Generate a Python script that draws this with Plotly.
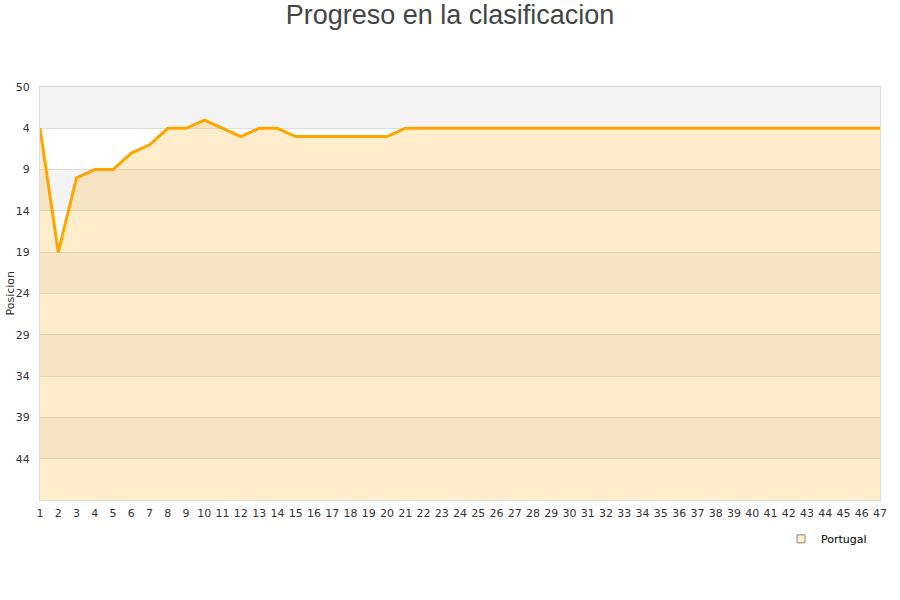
import plotly.graph_objects as go

jornadas = list(range(1, 48))
posicion = [4, 19, 10, 9, 9, 7, 6, 4, 4, 3, 4, 5, 4, 4, 5, 5, 5, 5, 5, 5] + [4] * 27
ytick_vals = [-1, 4, 9, 14, 19, 24, 29, 34, 39, 44]
ytick_text = ["50", "4", "9", "14", "19", "24", "29", "34", "39", "44"]
y_min, y_max = -1, 49

fig = go.Figure()

# baseline for area fill
fig.add_trace(go.Scatter(x=jornadas, y=[y_max] * len(jornadas), mode="lines",
                         line=dict(width=0, color="rgba(0,0,0,0)"),
                         showlegend=False, hoverinfo="skip"))
fig.add_trace(go.Scatter(x=jornadas, y=posicion, mode="lines", fill="tonexty",
                         fillcolor="rgba(255,165,0,0.2)",
                         line=dict(color="#FFA500", width=3),
                         showlegend=False, name="Portugal"))
# legend entry
fig.add_trace(go.Scatter(x=[None], y=[None], mode="markers", name="Portugal",
                         marker=dict(symbol="square", size=8, color="#FFEDCC",
                                     line=dict(color="#888888", width=1))))

# alternating bands
bounds = ytick_vals + [y_max]
shapes = []
for i in range(len(bounds) - 1):
    color = "#F4F4F4" if i % 2 == 0 else "#FFFFFF"
    shapes.append(dict(type="rect", xref="paper", yref="y", x0=0, x1=1,
                       y0=bounds[i], y1=bounds[i + 1], fillcolor=color,
                       line=dict(width=0), layer="below"))

fig.update_layout(
    width=900, height=600,
    paper_bgcolor="white", plot_bgcolor="white",
    margin=dict(l=40, r=20, t=87, b=100, autoexpand=False),
    title=dict(text="Progreso en la clasificacion", x=0.5, xanchor="center",
               y=1 - 15 / 600, yanchor="middle",
               font=dict(family="Liberation Sans, Arial", size=27, color="#444444")),
    font=dict(family="DejaVu Sans", size=11, color="#333333"),
    shapes=shapes,
    showlegend=True,
    legend=dict(orientation="h", x=0.9905, xanchor="right", y=-0.059, yanchor="top",
                font=dict(size=11, color="#000000"), bgcolor="rgba(0,0,0,0)"),
    xaxis=dict(range=[1, 47], tickmode="linear", tick0=1, dtick=1, automargin=False,
               showgrid=False, zeroline=False, showline=True, linecolor="#DDDDDD",
               mirror=True, ticks="", ticklabelstandoff=3,
               tickfont=dict(size=11, color="#333333")),
    yaxis=dict(range=[y_max, y_min], tickmode="array", tickvals=ytick_vals,
               ticktext=ytick_text, showgrid=True, gridcolor="#DDDDDD", automargin=False,
               zeroline=False, showline=True, linecolor="#DDDDDD", mirror=True,
               ticks="", ticklabelstandoff=7,
               tickfont=dict(size=11, color="#333333")),
    annotations=[dict(text="Posicion", xref="paper", yref="paper", x=-0.0357, y=0.5,
                      xanchor="center", yanchor="middle", textangle=-90, showarrow=False,
                      font=dict(size=11, color="#333333"))],
)

fig.write_html("out.html", config={"displayModeBar": False},
               post_script="document.body.style.margin='0';")
